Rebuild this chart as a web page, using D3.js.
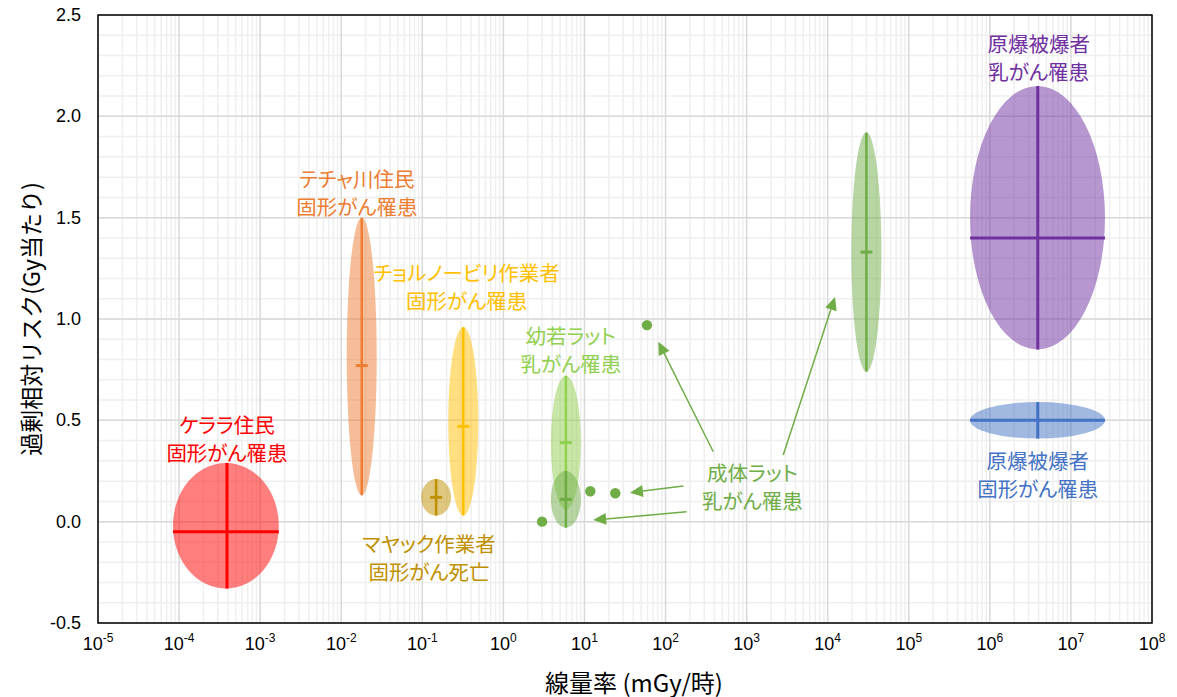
<!DOCTYPE html>
<html lang="ja">
<head>
<meta charset="utf-8">
<script src="https://cdn.jsdelivr.net/npm/d3@7"></script>
<style>
  html, body { margin: 0; padding: 0; background: #fff; }
  svg { display: block; }
  .jp { font-feature-settings: "palt"; }
</style>
</head>
<body>
<svg id="chart" width="1177" height="697"></svg>
<script>
// ---- Data -------------------------------------------------------------
// Decade exponents for the dose-rate axis (mGy/hour)
const xExponents = [-5, -4, -3, -2, -1, 0, 1, 2, 3, 4, 5, 6, 7, 8];
// ERR per Gy axis ticks
const yTicks = [-0.5, 0.0, 0.5, 1.0, 1.5, 2.0, 2.5];

// One entry per study ellipse
const studyName = ["ケララ住民", "テチャ川住民", "チョルノービリ作業者", "マヤック作業者",
                   "幼若ラット", "成体ラット", "成体ラット", "原爆被爆者(乳)", "原爆被爆者(固形)"];
const studyRate = [3.9e-4, 0.0179, 0.32, 0.148, 5.9, 5.9, 3.0e4, 3.9e6, 3.9e6];
const rateLow   = [8.4e-5, null, null, null, null, null, null, 5.7e5, 5.7e5];
const rateHigh  = [1.7e-3, null, null, null, null, null, null, 2.63e7, 2.63e7];
const errValue  = [-0.05, 0.77, 0.47, 0.12, 0.39, 0.11, 1.33, 1.40, 0.50];
const errLow    = [-0.33, 0.13, 0.03, 0.03, 0.06, -0.03, 0.74, 0.85, 0.41];
const errHigh   = [0.29, 1.50, 0.96, 0.21, 0.72, 0.25, 1.92, 2.15, 0.59];
const studyColor = ["#ff0000", "#ed7d31", "#ffc000", "#bf9000", "#92d050",
                    "#70ad47", "#70ad47", "#7030a0", "#4472c4"];

// Individual adult-rat results
const ratDotRate = [3.0, 11.8, 24, 59];
const ratDotErr  = [0.00, 0.15, 0.14, 0.97];

// Text labels (two lines each) with their anchor in data units
const labelLines = [
  ["ケララ住民", "固形がん罹患"],
  ["テチャ川住民", "固形がん罹患"],
  ["チョルノービリ作業者", "固形がん罹患"],
  ["マヤック作業者", "固形がん死亡"],
  ["幼若ラット", "乳がん罹患"],
  ["成体ラット", "乳がん罹患"],
  ["原爆被爆者", "乳がん罹患"],
  ["原爆被爆者", "固形がん罹患"]
];
const labelRate  = [3.9e-4, 0.0156, 0.352, 0.121, 6.8, 1180, 4.0e6, 3.9e6];
const labelErr   = [0.48, 1.696, 1.232, -0.105, 0.921, 0.245, 2.36, 0.304];
const labelColor = ["#ff0000", "#ed7d31", "#ffc000", "#bf9000", "#92d050",
                    "#70ad47", "#7030a0", "#4472c4"];

// Arrows from the adult-rat label to the adult-rat results
const arrowFromRate = [388, 2830, 166, 182];
const arrowFromErr  = [0.345, 0.329, 0.176, 0.049];
const arrowToRate   = [81.5, 12300, 36.4, 12.8];
const arrowToErr    = [0.888, 1.109, 0.143, 0.008];

// ---- Layout -----------------------------------------------------------
const svg = d3.select("#chart");
const plot = { left: 98, right: 1152, top: 15, bottom: 623 };

const x = d3.scaleLog().domain([1e-5, 1e8]).range([plot.left, plot.right]);
const y = d3.scaleLinear().domain([-0.5, 2.5]).range([plot.bottom, plot.top]);

const jpFont = "'Noto Sans CJK JP', 'Noto Sans', sans-serif";
const numFont = "'Liberation Sans', Arial, sans-serif";

// ---- Grid -------------------------------------------------------------
const grid = svg.append("g");
const minorX = [];
for (let e = -5; e < 8; e++) for (let m = 2; m <= 9; m++) minorX.push(m * Math.pow(10, e));
grid.selectAll(".mx").data(minorX).join("line")
  .attr("x1", d => x(d)).attr("x2", d => x(d))
  .attr("y1", plot.top).attr("y2", plot.bottom)
  .attr("stroke", "#efefef").attr("stroke-width", 1.5);

const minorY = d3.range(-0.5, 2.5001, 0.1).map(v => +v.toFixed(1));
grid.selectAll(".my").data(minorY).join("line")
  .attr("x1", plot.left).attr("x2", plot.right)
  .attr("y1", d => y(d)).attr("y2", d => y(d))
  .attr("stroke", "#efefef").attr("stroke-width", 1.5);

grid.selectAll(".Mx").data(xExponents).join("line")
  .attr("x1", d => x(Math.pow(10, d))).attr("x2", d => x(Math.pow(10, d)))
  .attr("y1", plot.top).attr("y2", plot.bottom)
  .attr("stroke", "#d9d9d9").attr("stroke-width", 1.5);

grid.selectAll(".My").data(yTicks).join("line")
  .attr("x1", plot.left).attr("x2", plot.right)
  .attr("y1", d => y(d)).attr("y2", d => y(d))
  .attr("stroke", "#d9d9d9").attr("stroke-width", 1.5);

// ---- Study ellipses with their error crosses ----------------------------
const narrowHalfWidth = 15;   // px, ellipse half-width when no dose-rate range is given
const capHalf = 6;            // px, half length of the central-value cap

const studies = studyRate.map((r, i) => ({
  rate: r, lo: rateLow[i], hi: rateHigh[i],
  err: errValue[i], eLo: errLow[i], eHi: errHigh[i], color: studyColor[i]
}));

const sg = svg.append("g");
studies.forEach(s => {
  const g = sg.append("g");
  const wide = s.lo != null;
  const cx = wide ? (x(s.lo) + x(s.hi)) / 2 : x(s.rate);
  const rx = wide ? (x(s.hi) - x(s.lo)) / 2 : narrowHalfWidth;
  const cy = (y(s.eLo) + y(s.eHi)) / 2;
  const ry = (y(s.eLo) - y(s.eHi)) / 2;
  g.append("ellipse")
    .attr("cx", cx).attr("cy", cy).attr("rx", rx).attr("ry", ry)
    .attr("fill", s.color).attr("fill-opacity", 0.5);
  g.append("line")
    .attr("x1", x(s.rate)).attr("x2", x(s.rate))
    .attr("y1", y(s.eHi)).attr("y2", y(s.eLo))
    .attr("stroke", s.color).attr("stroke-width", wide ? 3 : 2.5);
  g.append("line")
    .attr("x1", wide ? x(s.lo) : x(s.rate) - capHalf)
    .attr("x2", wide ? x(s.hi) : x(s.rate) + capHalf)
    .attr("y1", y(s.err)).attr("y2", y(s.err))
    .attr("stroke", s.color).attr("stroke-width", 3);
});

// ---- Adult rat points ----------------------------------------------------
svg.append("g").selectAll("circle").data(ratDotRate).join("circle")
  .attr("cx", d => x(d)).attr("cy", (d, i) => y(ratDotErr[i]))
  .attr("r", 5.2).attr("fill", "#70ad47");

// ---- Arrows ---------------------------------------------------------------
const ag = svg.append("g");
arrowFromRate.forEach((r, i) => {
  const x1 = x(r), y1 = y(arrowFromErr[i]);
  const x2 = x(arrowToRate[i]), y2 = y(arrowToErr[i]);
  const ang = Math.atan2(y2 - y1, x2 - x1);
  const len = 13, half = 6;
  const bx = x2 - len * Math.cos(ang), by = y2 - len * Math.sin(ang);
  ag.append("line")
    .attr("x1", x1).attr("y1", y1).attr("x2", bx).attr("y2", by)
    .attr("stroke", "#70ad47").attr("stroke-width", 1.5);
  const px = -Math.sin(ang), py = Math.cos(ang);
  ag.append("path")
    .attr("d", `M${x2},${y2}L${bx + half * px},${by + half * py}L${bx - half * px},${by - half * py}Z`)
    .attr("fill", "#70ad47");
});

// ---- Labels (each line its own text element) -------------------------------
const lg = svg.append("g").attr("class", "jp")
  .attr("font-family", jpFont).attr("font-size", 20.5)
  .attr("text-anchor", "middle");
labelLines.forEach((lines, i) => {
  lines.forEach((ln, k) => {
    lg.append("text")
      .attr("x", x(labelRate[i]))
      .attr("y", y(labelErr[i]) + k * 28)
      .attr("dominant-baseline", "central")
      .attr("fill", labelColor[i])
      .text(ln);
  });
});

// ---- Frame ----------------------------------------------------------------
svg.append("rect")
  .attr("x", plot.left).attr("y", plot.top)
  .attr("width", plot.right - plot.left).attr("height", plot.bottom - plot.top)
  .attr("fill", "none").attr("stroke", "#000").attr("stroke-width", 1.5);

// ---- Axis tick labels -----------------------------------------------------
svg.append("g").selectAll("text").data(yTicks).join("text")
  .attr("x", 81).attr("y", d => y(d))
  .attr("text-anchor", "end").attr("dominant-baseline", "central")
  .attr("font-family", numFont).attr("font-size", 18).attr("fill", "#000")
  .text(d => d.toFixed(1));

const xt = svg.append("g").selectAll("text").data(xExponents).join("text")
  .attr("x", d => x(Math.pow(10, d))).attr("y", 650)
  .attr("text-anchor", "middle")
  .attr("font-family", numFont).attr("font-size", 18).attr("fill", "#000");
xt.append("tspan").text("10");
xt.append("tspan").attr("dy", -8).attr("font-size", 12).text(d => d);

// ---- Axis titles ----------------------------------------------------------
svg.append("text")
  .attr("x", 634).attr("y", 681)
  .attr("text-anchor", "middle").attr("dominant-baseline", "central")
  .attr("font-family", jpFont).attr("font-size", 24).attr("fill", "#000")
  .text("線量率 (mGy/時)");

svg.append("text")
  .attr("transform", "translate(30,319) rotate(-90)")
  .attr("text-anchor", "middle").attr("dominant-baseline", "central")
  .attr("font-family", jpFont).attr("font-size", 23).attr("fill", "#000")
  .text("過剰相対リスク(Gy当たり)");
</script>
</body>
</html>
